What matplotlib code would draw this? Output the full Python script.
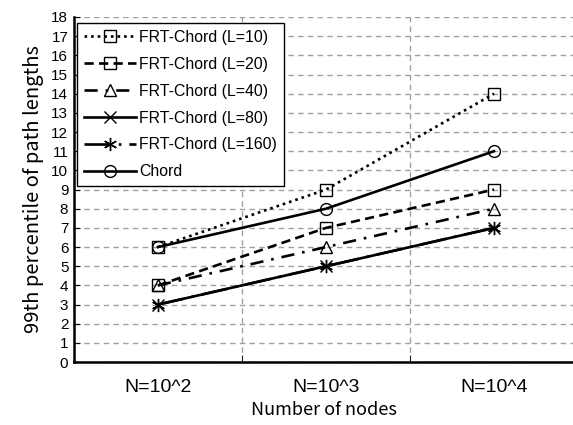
import matplotlib
matplotlib.use('Agg')
import matplotlib.pyplot as plt

categories = ['N=10^2', 'N=10^3', 'N=10^4']
frt_l10 = [6, 9, 14]
frt_l20 = [4, 7, 9]
frt_l40 = [4, 6, 8]
frt_l80 = [3, 5, 7]
frt_l160 = [3, 5, 7]
chord = [6, 8, 11]
yticks = list(range(0, 19))

plt.rcParams['font.family'] = ['Liberation Sans', 'DejaVu Sans']

fig = plt.figure(figsize=(5.73, 4.25), dpi=100)
ax = fig.add_axes([0.129, 0.148, 0.871, 0.812])

x = list(range(len(categories)))
lw = 1.9
ms = 8.5

# series (hollow markers, black lines)
ax.plot(x, frt_l10, color='black', lw=lw, linestyle=(0, (1, 1.5)), marker='s',
        ms=ms, mfc='none', mec='black', mew=1.0, label='FRT-Chord (L=10)')
ax.plot(x, frt_l20, color='black', lw=lw, linestyle=(0, (3.5, 2)), marker='s',
        ms=ms, mfc='none', mec='black', mew=1.0, label='FRT-Chord (L=20)')
ax.plot(x, frt_l40, color='black', lw=lw, linestyle=(0, (5, 3, 1, 3)), marker='^',
        ms=ms, mfc='none', mec='black', mew=1.0, label='FRT-Chord (L=40)')
ax.plot(x, frt_l80, color='black', lw=lw, linestyle='-', marker='x',
        ms=ms, mfc='none', mec='black', mew=1.0, label='FRT-Chord (L=80)')
ax.plot(x, frt_l160, color='black', lw=lw, linestyle=(0, (10, 3, 1, 3)), marker=(6, 2, 0),
        ms=ms + 1, mfc='none', mec='black', mew=1.0, label='FRT-Chord (L=160)')
ax.plot(x, chord, color='black', lw=lw, linestyle='-', marker='o',
        ms=ms, mfc='none', mec='black', mew=1.0, label='Chord')

ax.set_xlim(-0.5, 2.47)
ax.set_ylim(0, 18)
ax.set_yticks(yticks)
ax.set_xticks(x)
ax.set_xticklabels(categories, fontsize=14)
ax.tick_params(axis='y', labelsize=11, length=4, direction='in', pad=4)
ax.tick_params(axis='x', length=0, pad=12)

# grid: horizontal at each integer, vertical at category boundaries
ax.set_xticks([0.5, 1.5], minor=True)
ax.tick_params(axis='x', which='minor', length=5, direction='in', color='black')
ax.grid(True, axis='y', which='major', color='#a0a0a0', linestyle=(0, (4, 3)), lw=1.0)
ax.grid(True, axis='x', which='minor', color='#a0a0a0', linestyle=(0, (4, 3)), lw=1.0)
ax.set_axisbelow(True)

for side in ['top', 'right']:
    ax.spines[side].set_visible(False)
ax.spines['left'].set_linewidth(1.8)
ax.spines['bottom'].set_linewidth(1.8)

ax.set_xlabel('Number of nodes', fontsize=13, family=['Noto Sans CJK JP', 'DejaVu Sans'], labelpad=4)
ax.set_ylabel('99th percentile of path lengths', fontsize=14.5,
              family=['Noto Sans CJK JP', 'DejaVu Sans'], labelpad=5)

leg = ax.legend(loc='upper left', bbox_to_anchor=(0.006, 0.983), fontsize=11.4,
                frameon=True, fancybox=False, edgecolor='black', framealpha=1,
                handlelength=3.3, handletextpad=0.2, labelspacing=0.75,
                borderpad=0.45, borderaxespad=0)
leg.get_frame().set_linewidth(1.0)

fig.savefig('out.png', dpi=100)
